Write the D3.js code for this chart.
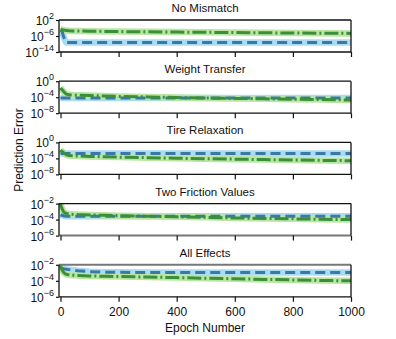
<!DOCTYPE html>
<html><head><meta charset="utf-8">
<script src="https://cdn.jsdelivr.net/npm/d3@7"></script>
<style>body{margin:0;background:#fff}svg{display:block}text{font-family:"Liberation Sans",Arial,sans-serif;fill:#111}</style>
</head><body>
<script>
// ---- data ----
const titles = ["No Mismatch","Weight Transfer","Tire Relaxation","Two Friction Values","All Effects"];
const yDomains = [[1e-14,1e2],[1e-8,1],[1e-8,1],[1e-6,1e-2],[1e-6,1e-2]];
const yTicks = [[1e-14,1e-6,1e2],[1e-8,1e-4,1],[1e-8,1e-4,1],[1e-6,1e-4,1e-2],[1e-6,1e-4,1e-2]];
const yTickExp = [[-14,-6,2],[-8,-4,0],[-8,-4,0],[-6,-4,-2],[-6,-4,-2]];
const xTicks = [0,200,400,600,800,1000];
const epochs = [0,5,10,15,20,30,40,60,100,150,200,300,400,500,600,700,800,900,1000];
// blue dashed series (per panel)
const blueSeries = [
  [1e-3,3e-4,1e-6,1e-8,5e-10,5e-10,5e-10,5e-10,5e-10,5e-10,5e-10,5e-10,5e-10,5e-10,5e-10,5e-10,5e-10,5e-10,5e-10],
  [6e-5,6e-5,6e-5,6e-5,6e-5,6e-5,6e-5,6e-5,6e-5,6e-5,6e-5,6e-5,6e-5,6e-5,6e-5,6e-5,6e-5,6e-5,6e-5],
  [1.8e-3,1.8e-3,1.8e-3,1.8e-3,1.8e-3,1.8e-3,1.8e-3,1.8e-3,1.8e-3,1.8e-3,1.8e-3,1.8e-3,1.8e-3,1.8e-3,1.8e-3,1.8e-3,1.8e-3,1.8e-3,1.8e-3],
  [4e-4,3.5e-4,3e-4,2.8e-4,2.7e-4,2.7e-4,2.7e-4,2.7e-4,2.7e-4,2.7e-4,2.7e-4,2.7e-4,2.7e-4,2.7e-4,2.7e-4,2.7e-4,2.7e-4,2.7e-4,2.7e-4],
  [4e-3,3.6e-3,3.2e-3,3e-3,2.8e-3,2.5e-3,2.2e-3,1.8e-3,1.4e-3,1.2e-3,1.15e-3,1.1e-3,1.1e-3,1.1e-3,1.1e-3,1.1e-3,1.1e-3,1.1e-3,1.1e-3]
];
// green dash-dot series (per panel)
const greenSeries = [
  [2e-3,1.5e-3,1e-3,7e-4,5e-4,4e-4,3.5e-4,3e-4,2.5e-4,2e-4,1.6e-4,1.2e-4,9e-5,7e-5,5e-5,4e-5,3e-5,2.5e-5,2e-5],
  [2e-2,8e-3,3e-3,1.2e-3,6e-4,4e-4,3.5e-4,3e-4,2.5e-4,2e-4,1.6e-4,1.2e-4,8e-5,6e-5,5e-5,4e-5,3e-5,2.5e-5,2e-5],
  [1.2e-2,6e-3,3e-3,1.5e-3,8e-4,5e-4,4.5e-4,4e-4,3.2e-4,2.6e-4,2.1e-4,1.5e-4,1.1e-4,8e-5,6.5e-5,5e-5,4e-5,3.2e-5,2.6e-5],
  [9e-3,2.5e-3,1e-3,7e-4,6e-4,5e-4,4.6e-4,4.2e-4,3.8e-4,3.4e-4,3.1e-4,2.6e-4,2.2e-4,1.9e-4,1.6e-4,1.4e-4,1.25e-4,1.1e-4,1e-4],
  [8e-3,2.5e-3,1.2e-3,8e-4,6.5e-4,5.5e-4,5e-4,4.6e-4,4.1e-4,3.7e-4,3.4e-4,2.9e-4,2.5e-4,2.1e-4,1.8e-4,1.5e-4,1.3e-4,1.1e-4,1e-4]
];

// ---- layout ----
const W = 396, H = 339;
const left = 59, right = 351, panelH = 32;
const panelTops = [20, 81.2, 142.4, 203.6, 264.8];

const svg = d3.select("body").append("svg").attr("width", W).attr("height", H);
const x = d3.scaleLinear().domain([0,1000]).range([left+1.5, right]);

titles.forEach((t, i) => {
  const top = panelTops[i], bot = top + panelH;
  const y = d3.scaleLog().domain(yDomains[i]).range([bot, top]);
  const g = svg.append("g");
  const clipId = "clip" + i;
  g.append("clipPath").attr("id", clipId).append("rect")
    .attr("x", left).attr("y", top).attr("width", right-left).attr("height", panelH);

  const line = d3.line().x((d,k) => x(epochs[k])).y(d => y(d));
  const lg = g.append("g").attr("clip-path", `url(#${clipId})`);
  // halos
  lg.append("path").attr("d", line(blueSeries[i])).attr("fill","none")
    .attr("stroke","#a9dcf2").attr("stroke-width",6.5).attr("stroke-linejoin","round");
  lg.append("path").attr("d", line(greenSeries[i])).attr("fill","none")
    .attr("stroke","#b9e6a3").attr("stroke-width",6.5).attr("stroke-linejoin","round");
  // main lines
  lg.append("path").attr("d", line(blueSeries[i])).attr("fill","none")
    .attr("stroke","#3a78a6").attr("stroke-width",3).attr("stroke-dasharray","10,5");
  lg.append("path").attr("d", line(greenSeries[i])).attr("fill","none")
    .attr("stroke","#3b8f3a").attr("stroke-width",3).attr("stroke-dasharray","14,3,2,3");

  // frame
  const isGrayBottom = i === 3, isGrayTop = i === 4;
  g.append("line").attr("x1",left).attr("x2",right).attr("y1",top).attr("y2",top)
    .attr("stroke", isGrayTop ? "#777" : "#111").attr("stroke-width", isGrayTop ? 2 : 1.3);
  g.append("line").attr("x1",left).attr("x2",right).attr("y1",bot).attr("y2",bot)
    .attr("stroke", isGrayBottom ? "#777" : "#111").attr("stroke-width", isGrayBottom ? 2 : 1.3);
  g.append("line").attr("x1",left).attr("x2",left).attr("y1",top).attr("y2",bot)
    .attr("stroke","#111").attr("stroke-width",1.3);
  g.append("line").attr("x1",right).attr("x2",right).attr("y1",top).attr("y2",bot)
    .attr("stroke","#111").attr("stroke-width",1.3);

  // x axis ticks
  const xa = d3.axisBottom(x).tickValues(xTicks).tickSize(5).tickFormat(i === 4 ? d3.format("d") : "");
  const xg = g.append("g").attr("transform", `translate(0,${bot})`).call(xa);
  xg.select(".domain").remove();
  xg.selectAll(".tick line").attr("stroke","#111").attr("stroke-width",1.2);
  xg.selectAll(".tick text").attr("font-size",12).attr("dy","0.9em").attr("fill","#111")
    .style("font-family",'"Liberation Sans",Arial,sans-serif');

  // y axis
  const ya = d3.axisLeft(y).tickValues(yTicks[i]).tickSize(3).tickFormat("");
  const yg = g.append("g").attr("transform", `translate(${left},0)`).call(ya);
  yg.select(".domain").remove();
  yg.selectAll(".tick line").attr("stroke","#111").attr("stroke-width",1.2);
  yTicks[i].forEach((v, k) => {
    const tx = g.append("text").attr("x", left - 5).attr("y", y(v) + 5)
      .attr("text-anchor","end").attr("font-size",12);
    tx.append("tspan").text("10");
    tx.append("tspan").attr("dy",-6).attr("font-size",9).text(String(yTickExp[i][k]).replace("-", "\u2212"));
  });

  // title
  svg.append("text").attr("x", (left+right)/2).attr("y", top - 8)
    .attr("text-anchor","middle").attr("font-size",11.5).text(t);
});

svg.append("text").attr("x", (left+right)/2).attr("y", 332)
  .attr("text-anchor","middle").attr("font-size",12).text("Epoch Number");
svg.append("text").attr("transform","translate(23,150) rotate(-90)")
  .attr("text-anchor","middle").attr("font-size",12).text("Prediction Error");
</script>
</body></html>
